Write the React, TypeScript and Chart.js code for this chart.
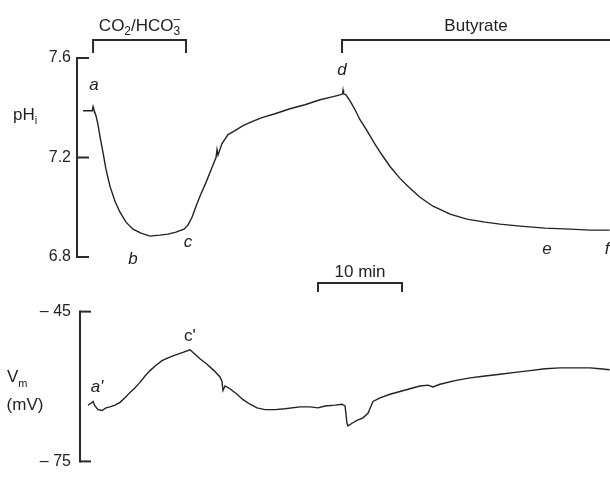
import React, { useEffect, useRef } from "react";
import { Chart, registerables } from "chart.js";
Chart.register(...registerables);

// ---- data (time in minutes) ----
const TIME_PH = [-0.6, 0.5, 0.6, 0.66, 0.95, 1.19, 1.43, 1.79, 2.14, 2.62, 3.21, 3.81, 4.52, 5.36, 6.31, 7.38, 8.57, 9.52, 10.48, 11.43, 11.9, 12.38, 12.86, 13.33, 14.05, 14.76, 15.24, 15.36, 15.48, 15.95, 16.67, 17.5, 18.45, 19.52, 20.71, 22.26, 24.05, 25.83, 27.62, 29.05, 30.0, 30.3, 30.36, 30.42, 30.71, 31.19, 31.79, 32.38, 33.21, 34.05, 34.88, 35.95, 37.14, 38.33, 39.52, 41.07, 43.1, 45.1, 47.26, 49.05, 51.43, 54.4, 57.4, 59.76, 62.1];
const PH_VALUES = [7.388, 7.388, 7.404, 7.396, 7.368, 7.332, 7.284, 7.22, 7.152, 7.084, 7.024, 6.98, 6.94, 6.912, 6.896, 6.884, 6.888, 6.892, 6.9, 6.912, 6.928, 6.96, 7.004, 7.044, 7.1, 7.16, 7.2, 7.232, 7.21, 7.256, 7.292, 7.308, 7.328, 7.344, 7.36, 7.376, 7.396, 7.412, 7.432, 7.444, 7.452, 7.456, 7.47, 7.456, 7.452, 7.428, 7.392, 7.352, 7.308, 7.26, 7.216, 7.164, 7.116, 7.076, 7.04, 7.004, 6.972, 6.952, 6.94, 6.932, 6.924, 6.916, 6.912, 6.908, 6.908];

const TIME_VM = [0, 0.36, 0.6, 0.83, 1.19, 1.67, 2.14, 2.62, 3.21, 3.81, 4.4, 5.0, 5.6, 6.19, 6.79, 7.38, 8.1, 8.81, 9.52, 10.36, 11.31, 12.14, 12.74, 13.33, 14.17, 15.0, 15.71, 15.95, 16.07, 16.31, 16.9, 17.74, 18.45, 19.29, 20.12, 21.07, 22.26, 23.45, 25.24, 26.43, 27.38, 28.21, 29.4, 30.24, 30.6, 30.83, 30.95, 31.43, 32.02, 32.74, 33.33, 33.93, 34.76, 35.95, 37.14, 38.33, 39.52, 40.48, 41.07, 41.9, 43.69, 45.48, 47.26, 49.05, 50.83, 52.62, 54.4, 56.19, 57.98, 59.76, 60.95, 62.1];
const VM_VALUES = [-63.73, -63.36, -63.0, -63.9, -64.64, -64.8, -64.27, -64.09, -63.73, -63.18, -62.27, -61.18, -60.27, -59.18, -57.9, -56.82, -55.73, -54.82, -54.27, -53.73, -53.18, -52.64, -53.55, -54.45, -55.55, -56.82, -58.09, -59.0, -60.8, -59.9, -60.45, -61.55, -62.64, -63.55, -64.27, -64.64, -64.64, -64.45, -64.09, -64.09, -64.27, -63.9, -63.73, -63.55, -63.9, -67.36, -67.9, -67.36, -66.8, -66.27, -65.36, -63.0, -62.27, -61.55, -61.0, -60.45, -59.9, -59.73, -60.09, -59.55, -58.82, -58.27, -57.9, -57.55, -57.18, -56.82, -56.45, -56.27, -56.27, -56.27, -56.45, -56.64];

const PH_TICKS = [6.8, 7.2, 7.6];
const PH_TICK_LABELS = ["6.8", "7.2", "7.6"];
const VM_TICKS = [-75, -45];
const VM_TICK_LABELS = ["\u2013 75", "\u2013 45"];

const X_RANGE = [-1.31, 62.14];
const CO2_PERIOD = [0.6, 11.67];
const BUTYRATE_PERIOD = [30.24, 62.14];
const SCALE_BAR = [27.38, 37.38];
const SCALE_BAR_LABEL = "10 min";

const PH_MARKER_LABELS = ["a", "b", "c", "d", "e", "f"];
const PH_MARKER_TIMES = [0.71, 5.36, 11.9, 30.24, 54.64, 61.79];
const PH_MARKER_VALUES = [7.492, 6.792, 6.86, 7.552, 6.832, 6.832];
const VM_MARKER_LABELS = ["a'", "c'"];
const VM_MARKER_TIMES = [1.07, 12.14];
const VM_MARKER_VALUES = [-60.1, -49.9];

// ---- styles ----
const FONT = '"Liberation Sans", Arial, Helvetica, sans-serif';
const INK = "#222";
const AXIS_COLOR = "#2a2a2a";

type Part = { t: string; size: number; dy?: number; italic?: boolean; stack?: boolean };

function drawRich(ctx: CanvasRenderingContext2D, parts: Part[], x: number, y: number, align: "left" | "center") {
  const f = (p: Part) => `${p.italic ? "italic " : ""}${p.size}px ${FONT}`;
  const pos: number[] = [];
  let cur = 0, prevX = 0, prevW = 0;
  for (const p of parts) {
    ctx.font = f(p);
    const w = ctx.measureText(p.t).width;
    if (p.stack) {
      pos.push(prevX);
      const adv = Math.max(prevW, w);
      cur = prevX + adv;
      prevW = adv;
    } else {
      pos.push(cur);
      prevX = cur;
      prevW = w;
      cur += w;
    }
  }
  const x0 = align === "center" ? x - cur / 2 : x;
  ctx.textAlign = "left";
  ctx.textBaseline = "alphabetic";
  parts.forEach((p, i) => {
    ctx.font = f(p);
    ctx.fillText(p.t, x0 + pos[i], y + (p.dy || 0));
  });
}

function seg(ctx: CanvasRenderingContext2D, x1: number, y1: number, x2: number, y2: number) {
  ctx.beginPath();
  ctx.moveTo(x1, y1);
  ctx.lineTo(x2, y2);
  ctx.stroke();
}

const topDecor = {
  id: "topDecor",
  afterDraw(chart: any) {
    const { ctx, chartArea, scales } = chart;
    const xs = scales.x, ys = scales.y;
    ctx.save();
    ctx.strokeStyle = AXIS_COLOR;
    ctx.fillStyle = INK;
    ctx.lineWidth = 2;
    // y axis
    const ax = chartArea.left;
    seg(ctx, ax, ys.getPixelForValue(PH_TICKS[PH_TICKS.length - 1]) - 1, ax, ys.getPixelForValue(PH_TICKS[0]) + 1);
    PH_TICKS.forEach((v) => {
      const py = ys.getPixelForValue(v);
      seg(ctx, ax, py, ax + 12, py);
    });
    // brackets
    const by = 40, bt = 53;
    const c0 = xs.getPixelForValue(CO2_PERIOD[0]), c1 = xs.getPixelForValue(CO2_PERIOD[1]);
    ctx.beginPath();
    ctx.moveTo(c0, bt); ctx.lineTo(c0, by); ctx.lineTo(c1, by); ctx.lineTo(c1, bt);
    ctx.stroke();
    const b0 = xs.getPixelForValue(BUTYRATE_PERIOD[0]), b1 = xs.getPixelForValue(BUTYRATE_PERIOD[1]);
    ctx.beginPath();
    ctx.moveTo(b0, bt); ctx.lineTo(b0, by); ctx.lineTo(b1 + 2, by);
    ctx.stroke();
    // bracket labels
    drawRich(ctx, [
      { t: "CO", size: 17 },
      { t: "2", size: 12, dy: 4 },
      { t: "/HCO", size: 17 },
      { t: "3", size: 12, dy: 4 },
      { t: "\u2013", size: 12, dy: -8, stack: true },
    ], (c0 + c1) / 2, 31, "center");
    drawRich(ctx, [{ t: "Butyrate", size: 17 }], (b0 + b1) / 2, 31, "center");
    // 10 min scale bar
    const s0 = xs.getPixelForValue(SCALE_BAR[0]), s1 = xs.getPixelForValue(SCALE_BAR[1]);
    ctx.beginPath();
    ctx.moveTo(s0, 292); ctx.lineTo(s0, 283); ctx.lineTo(s1, 283); ctx.lineTo(s1, 292);
    ctx.stroke();
    drawRich(ctx, [{ t: SCALE_BAR_LABEL, size: 17 }], (s0 + s1) / 2, 277, "center");
    // pHi label
    drawRich(ctx, [{ t: "pH", size: 17 }, { t: "i", size: 11, dy: 4 }], 13, 120, "left");
    // markers
    ctx.font = `italic 17px ${FONT}`;
    ctx.textAlign = "center";
    ctx.textBaseline = "middle";
    PH_MARKER_LABELS.forEach((l, i) => {
      ctx.fillText(l, xs.getPixelForValue(PH_MARKER_TIMES[i]), ys.getPixelForValue(PH_MARKER_VALUES[i]));
    });
    ctx.restore();
  },
};

const bottomDecor = {
  id: "bottomDecor",
  afterDraw(chart: any) {
    const { ctx, chartArea, scales } = chart;
    const xs = scales.x, ys = scales.y;
    ctx.save();
    ctx.strokeStyle = AXIS_COLOR;
    ctx.fillStyle = INK;
    ctx.lineWidth = 2;
    const ax = chartArea.left + 3;
    seg(ctx, ax, ys.getPixelForValue(VM_TICKS[VM_TICKS.length - 1]) - 1, ax, ys.getPixelForValue(VM_TICKS[0]) + 1);
    VM_TICKS.forEach((v) => {
      const py = ys.getPixelForValue(v);
      seg(ctx, ax, py, ax + 11, py);
    });
    // Vm label
    drawRich(ctx, [{ t: "V", size: 17 }, { t: "m", size: 11, dy: 5 }], 7, 382 - 296, "left");
    drawRich(ctx, [{ t: "(mV)", size: 17 }], 25, 410 - 296, "center");
    // markers
    VM_MARKER_LABELS.forEach((l, i) => {
      ctx.font = `${i === 0 ? "italic " : ""}17px ${FONT}`;
      ctx.textAlign = "center";
      ctx.textBaseline = "middle";
      ctx.fillText(l, xs.getPixelForValue(VM_MARKER_TIMES[i]), ys.getPixelForValue(VM_MARKER_VALUES[i]));
    });
    ctx.restore();
  },
};

function yScale(min: number, max: number, ticks: number[], labels: string[]) {
  return {
    min,
    max,
    afterFit: (s: any) => { s.width = 77; },
    afterBuildTicks: (s: any) => { s.ticks = ticks.map((v) => ({ value: v })); },
    grid: { display: false, drawTicks: false },
    border: { display: false },
    ticks: {
      padding: 6,
      color: INK,
      font: { family: FONT, size: 16 },
      callback: (v: any) => {
        const i = ticks.indexOf(Number(v));
        return i >= 0 ? labels[i] : "";
      },
    },
  };
}

function makeConfig(xsData: number[], ysData: number[], yMin: number, yMax: number, ticks: number[], labels: string[], padTop: number, padBottom: number, plugin: any) {
  return {
    type: "line" as const,
    data: {
      datasets: [{
        data: xsData.map((t, i) => ({ x: t, y: ysData[i] })),
        borderColor: INK,
        borderWidth: 1.4,
        pointRadius: 0,
        tension: 0,
        fill: false,
      }],
    },
    options: {
      responsive: false,
      animation: false as const,
      layout: { padding: { top: padTop, bottom: padBottom, left: 0, right: 0 } },
      plugins: { legend: { display: false }, tooltip: { enabled: false } },
      scales: {
        x: { type: "linear" as const, display: false, min: X_RANGE[0], max: X_RANGE[1] },
        y: yScale(yMin, yMax, ticks, labels),
      },
    },
    plugins: [plugin],
  };
}

export default function App() {
  const topRef = useRef<HTMLCanvasElement>(null);
  const botRef = useRef<HTMLCanvasElement>(null);
  useEffect(() => {
    const top = new Chart(topRef.current!, makeConfig(TIME_PH, PH_VALUES, 6.8, 7.6, PH_TICKS, PH_TICK_LABELS, 58, 39, topDecor) as any);
    const bot = new Chart(botRef.current!, makeConfig(TIME_VM, VM_VALUES, -75, -45, VM_TICKS, VM_TICK_LABELS, 9, 7, bottomDecor) as any);
    return () => { top.destroy(); bot.destroy(); };
  }, []);
  return (
    <div style={{ position: "fixed", left: 0, top: 0, width: 610, height: 477, background: "#fff" }}>
      <canvas ref={topRef} width={610} height={296} style={{ position: "absolute", left: 0, top: 0, width: 610, height: 296 }} />
      <canvas ref={botRef} width={610} height={181} style={{ position: "absolute", left: 0, top: 296, width: 610, height: 181 }} />
    </div>
  );
}
